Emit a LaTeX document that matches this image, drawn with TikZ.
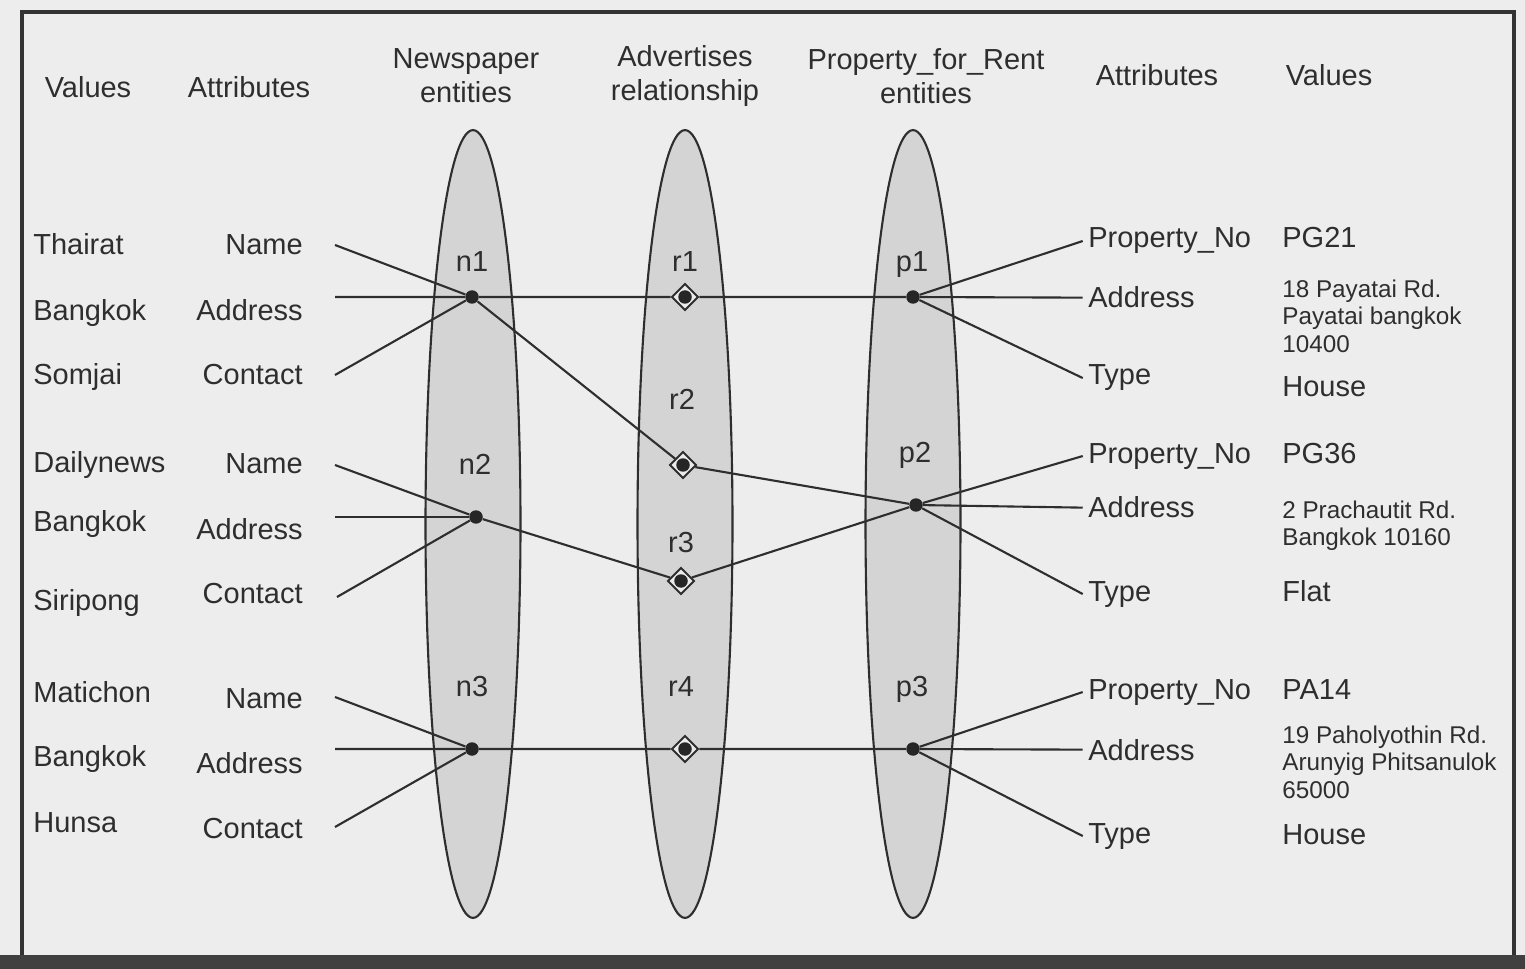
\documentclass[tikz,border=0pt]{standalone}
\usepackage{fontspec}
\setmainfont{Liberation Sans}
\usetikzlibrary{shapes.geometric,positioning}

\begin{document}
\begin{tikzpicture}[x=0.02cm, y=-0.02cm,
    every node/.style={inner sep=0pt, text=black!82},
    head/.style={font=\fontsize{16.5}{19.4}\selectfont, align=center},
    lbl/.style={font=\fontsize{16.5}{19.4}\selectfont},
    small/.style={font=\fontsize{13.8}{15.4}\selectfont, align=left, anchor=north west},
    set/.style={ellipse, draw=black!82, line width=1.2pt, fill=black!17,
      minimum width=1.9cm, minimum height=15.76cm},
    dot/.style={circle, fill=black!85, minimum size=0.27cm},
    rel/.style={diamond, draw=black!82, line width=1.1pt, fill=black!8, minimum size=0.54cm},
    link/.style={draw=black!82, line width=1.2pt}]

    % paper and frame
    \fill[black!7] (0,0) rectangle (1525,969);
    \draw[black!80, line width=1.8pt] (22,957) -- (22,12) -- (1514,12) -- (1514,957);
    \fill[black!75] (0,955) rectangle (1525,969);

    % the three sets
    \node[set] (news) at (473,524) {};
    \node[set] (adv) at (685,524) {};
    \node[set] (prop) at (913,524) {};

    % headers
    \node[lbl, anchor=base] (hvall) at (88,98) {Values};
    \node[lbl, anchor=base] (hattl) at (249,98) {Attributes};
    \node[head] (hnews) at (466,76) {Newspaper\\entities};
    \node[head] (hadv) at (685,76) {Advertises\\relationship};
    \node[head] (hprop) at (926,76) {Property\_for\_Rent\\entities};
    \node[lbl, anchor=base] (hattr) at (1157,86) {Attributes};
    \node[lbl, anchor=base] (hvalr) at (1329,86) {Values};

    % entity and relationship points
    \node[dot] (n1) at (472,297) {};
    \node[dot] (n2) at (476,517) {};
    \node[dot] (n3) at (472,749) {};
    \node[dot] (p1) at (913,297) {};
    \node[dot] (p2) at (916,505) {};
    \node[dot] (p3) at (913,749) {};
    \node[rel] (r1) at (685,297) {};
    \node[rel] (r2) at (683,465) {};
    \node[rel] (r3) at (681,581) {};
    \node[rel] (r4) at (685,749) {};

    \node[lbl, anchor=base] (n1l) at (472,272) {n1};
    \node[lbl, anchor=base] (n2l) at (475,475) {n2};
    \node[lbl, anchor=base] (n3l) at (472,696) {n3};
    \node[lbl, anchor=base] (r1l) at (685,272) {r1};
    \node[lbl, anchor=base] (r2l) at (682,410) {r2};
    \node[lbl, anchor=base] (r3l) at (681,552) {r3};
    \node[lbl, anchor=base] (r4l) at (681,696) {r4};
    \node[lbl, anchor=base] (p1l) at (912,272) {p1};
    \node[lbl, anchor=base] (p2l) at (915,462) {p2};
    \node[lbl, anchor=base] (p3l) at (912,696) {p3};

    % newspaper side
    \node[lbl, anchor=base west] (v1) at (33,255) {Thairat};
    \node[lbl, anchor=base west] (v2) at (33,321) {Bangkok};
    \node[lbl, anchor=base west] (v3) at (33,385) {Somjai};
    \node[lbl, anchor=base west] (v4) at (33,473) {Dailynews};
    \node[lbl, anchor=base west] (v5) at (33,531) {Bangkok};
    \node[lbl, anchor=base west] (v6) at (33,610) {Siripong};
    \node[lbl, anchor=base west] (v7) at (33,702) {Matichon};
    \node[lbl, anchor=base west] (v8) at (33,766) {Bangkok};
    \node[lbl, anchor=base west] (v9) at (33,832) {Hunsa};

    \node[lbl, anchor=base east] (a1) at (303,255) {Name};
    \node[lbl, anchor=base east] (a2) at (303,321) {Address};
    \node[lbl, anchor=base east] (a3) at (303,385) {Contact};
    \node[lbl, anchor=base east] (a4) at (303,474) {Name};
    \node[lbl, anchor=base east] (a5) at (303,539) {Address};
    \node[lbl, anchor=base east] (a6) at (303,603) {Contact};
    \node[lbl, anchor=base east] (a7) at (303,708) {Name};
    \node[lbl, anchor=base east] (a8) at (303,773) {Address};
    \node[lbl, anchor=base east] (a9) at (303,838) {Contact};

    \coordinate (e1) at (335,245);
    \coordinate (e2) at (335,297);
    \coordinate (e3) at (335,375);
    \coordinate (e4) at (335,465);
    \coordinate (e5) at (335,517);
    \coordinate (e6) at (337,597);
    \coordinate (e7) at (335,697);
    \coordinate (e8) at (335,749);
    \coordinate (e9) at (335,827);

    % property side
    \node[lbl, anchor=base west] (b1) at (1088,248) {Property\_No};
    \node[lbl, anchor=base west] (b2) at (1088,308) {Address};
    \node[lbl, anchor=base west] (b3) at (1088,385) {Type};
    \node[lbl, anchor=base west] (b4) at (1088,463) {Property\_No};
    \node[lbl, anchor=base west] (b5) at (1088,518) {Address};
    \node[lbl, anchor=base west] (b6) at (1088,601) {Type};
    \node[lbl, anchor=base west] (b7) at (1088,699) {Property\_No};
    \node[lbl, anchor=base west] (b8) at (1088,760) {Address};
    \node[lbl, anchor=base west] (b9) at (1088,843) {Type};

    \node[lbl, anchor=base west] (w1) at (1282,248) {PG21};
    \node[small] (w2) at (1282,280) {18 Payatai Rd.\\Payatai bangkok\\10400};
    \node[lbl, anchor=base west] (w3) at (1282,397) {House};
    \node[lbl, anchor=base west] (w4) at (1282,463) {PG36};
    \node[small] (w5) at (1282,501) {2 Prachautit Rd.\\Bangkok 10160};
    \node[lbl, anchor=base west] (w6) at (1282,601) {Flat};
    \node[lbl, anchor=base west] (w7) at (1282,699) {PA14};
    \node[small] (w8) at (1282,726) {19 Paholyothin Rd.\\Arunyig Phitsanulok\\65000};
    \node[lbl, anchor=base west] (w9) at (1282,844) {House};

    % connectors
    \draw[link] (e1) to (n1);
    \draw[link] (e3) to (n1);
    \draw[link] (e4) to (n2);
    \draw[link] (e5) to (n2);
    \draw[link] (e6) to (n2);
    \draw[link] (e7) to (n3);
    \draw[link] (e9) to (n3);
    \draw[link] (e2) -- (n1) -- (r1) -- (p1) -- ([xshift=-3pt]b2.west);
    \draw[link] (e8) -- (n3) -- (r4) -- (p3) -- ([xshift=-3pt]b8.west);
    \draw[link] (n1) -- (r2) -- (p2);
    \draw[link] (n2) -- (r3) -- (p2);
    \draw[link] (p1) to ([xshift=-3pt]b1.west);
    \draw[link] (p1) to ([xshift=-3pt]b3.west);
    \draw[link] (p2) to ([xshift=-3pt]b4.west);
    \draw[link] (p2) to ([xshift=-3pt]b5.west);
    \draw[link] (p2) to ([xshift=-3pt]b6.west);
    \draw[link] (p3) to ([xshift=-3pt]b7.west);
    \draw[link] (p3) to ([xshift=-3pt]b9.west);

    % dots inside the diamonds
    \node[dot] (r1d) at (r1) {};
    \node[dot] (r2d) at (r2) {};
    \node[dot] (r3d) at (r3) {};
    \node[dot] (r4d) at (r4) {};
\end{tikzpicture}
\end{document}
